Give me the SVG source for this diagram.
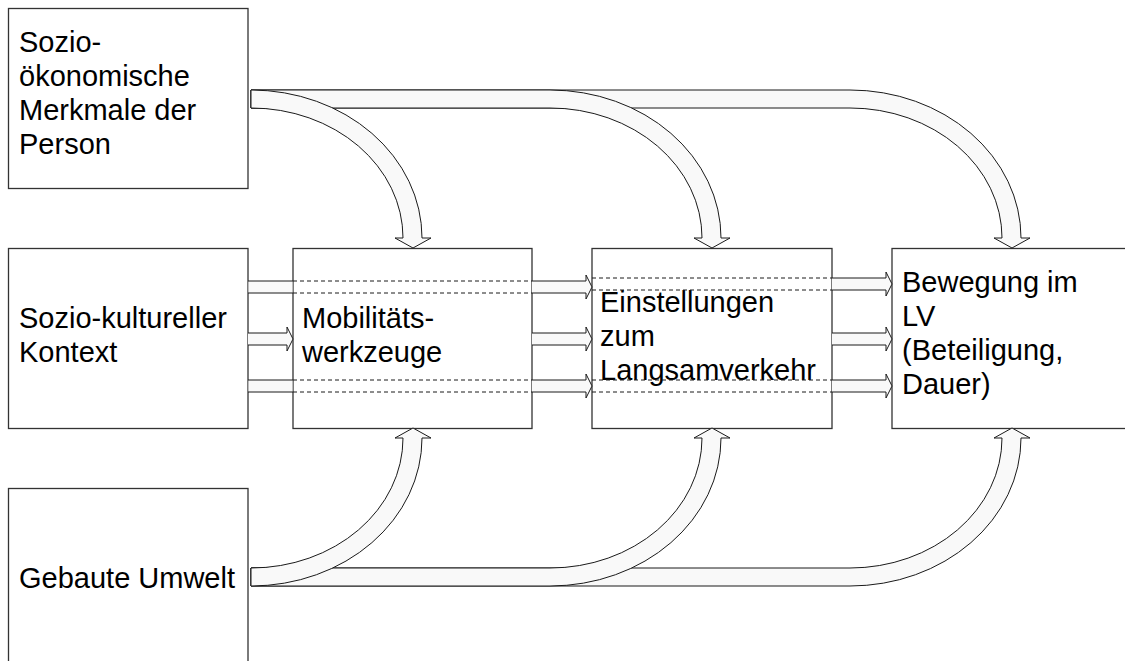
<svg xmlns="http://www.w3.org/2000/svg" width="1125" height="661" viewBox="0 0 1125 661">
  <style>
    .box { fill: #ffffff; stroke: #333333; stroke-width: 1.3; }
    .lbl { font-family: "Liberation Sans", Arial, sans-serif; font-size: 29px; fill: #000000; }
    .arrow { fill: #f9f9f9; stroke: #1a1a1a; stroke-width: 1; stroke-linejoin: miter; }
    .shaft { fill: #f9f9f9; stroke: none; }
    .edge { fill: none; stroke: #1a1a1a; stroke-width: 1; }
    .hidden { fill: none; stroke: #1a1a1a; stroke-width: 1; stroke-dasharray: 4 3; }
  </style>

  <rect width="1125" height="661" fill="#ffffff"/>

  <!-- nodes -->
  <g id="node-soziooekonomisch">
    <rect class="box" x="8.5" y="8.5" width="239.5" height="180"/>
    <text class="lbl" x="19" y="52">Sozio-</text>
    <text class="lbl" x="19" y="86">ökonomische</text>
    <text class="lbl" x="19" y="120">Merkmale der</text>
    <text class="lbl" x="19" y="154">Person</text>
  </g>

  <g id="node-soziokulturell">
    <rect class="box" x="8.5" y="248.5" width="239.5" height="180"/>
    <text class="lbl" x="19" y="328">Sozio-kultureller</text>
    <text class="lbl" x="19" y="362">Kontext</text>
  </g>

  <g id="node-umwelt">
    <rect class="box" x="8.5" y="488.5" width="239.5" height="182"/>
    <text class="lbl" x="19" y="588">Gebaute Umwelt</text>
  </g>

  <g id="node-mobilitaet">
    <rect class="box" x="293" y="248.5" width="239" height="180"/>
    <text class="lbl" x="302" y="328">Mobilitäts-</text>
    <text class="lbl" x="302" y="362">werkzeuge</text>
  </g>

  <g id="node-einstellungen">
    <rect class="box" x="592" y="248.5" width="240" height="180"/>
    <text class="lbl" x="600" y="312">Einstellungen</text>
    <text class="lbl" x="600" y="346">zum</text>
    <text class="lbl" x="600" y="380">Langsamverkehr</text>
  </g>

  <g id="node-bewegung">
    <rect class="box" x="892" y="248.5" width="240" height="180"/>
    <text class="lbl" x="902" y="292">Bewegung im</text>
    <text class="lbl" x="902" y="326">LV</text>
    <text class="lbl" x="902" y="360">(Beteiligung,</text>
    <text class="lbl" x="902" y="394">Dauer)</text>
  </g>

  <!-- connectors -->
  <g id="connectors">
    <!-- curved block arrows from the top box, longest first -->
    <path class="arrow" d="M251 90 L850 90 A171 148 0 0 1 1021 238 L1030 238 L1012 248 L994 238 L1002 238 A152 130 0 0 0 850 108 L251 108 Z"/>
    <path class="arrow" d="M251 90 L550 90 A171 148 0 0 1 721 238 L730 238 L712 248 L694 238 L702 238 A152 130 0 0 0 550 108 L251 108 Z"/>
    <path class="arrow" d="M251 90 A171 148 0 0 1 422 238 L431 238 L413 248 L395 238 L403 238 A152 130 0 0 0 251 108 Z"/>

    <!-- curved block arrows from the bottom box, longest first -->
    <path class="arrow" d="M251 586 L850 586 A171 148 0 0 0 1021 438 L1030 438 L1012 428 L994 438 L1002 438 A152 130 0 0 1 850 568 L251 568 Z"/>
    <path class="arrow" d="M251 586 L550 586 A171 148 0 0 0 721 438 L730 438 L712 428 L694 438 L702 438 A152 130 0 0 1 550 568 L251 568 Z"/>
    <path class="arrow" d="M251 586 A171 148 0 0 0 422 438 L431 438 L413 428 L395 438 L403 438 A152 130 0 0 1 251 568 Z"/>

    <!-- top row: long arrows running behind the boxes -->
    <rect class="shaft" x="248.5" y="281" width="44" height="12"/>
    <path class="edge" d="M248 281 L293 281 M248 293 L293 293"/>
    <path class="hidden" d="M293 281 L532 281 M293 293 L532 293"/>
    <path class="arrow" d="M532 281 L586 281 L586 275 L592 287 L586 299 L586 293 L532 293"/>
    <path class="hidden" d="M592 278 L832 278 M592 290 L832 290"/>
    <path class="arrow" d="M832 278 L886 278 L886 272 L892 284 L886 296 L886 290 L832 290"/>

    <!-- middle row: short arrows between neighbouring boxes -->
    <path class="arrow" d="M248 333 L287 333 L287 327 L293 339 L287 351 L287 345 L248 345"/>
    <path class="arrow" d="M532 333 L586 333 L586 327 L592 339 L586 351 L586 345 L532 345"/>
    <path class="arrow" d="M832 333 L886 333 L886 327 L892 339 L886 351 L886 345 L832 345"/>

    <!-- bottom row: long arrows running behind the boxes -->
    <rect class="shaft" x="248.5" y="380" width="44" height="12"/>
    <path class="edge" d="M248 380 L293 380 M248 392 L293 392"/>
    <path class="hidden" d="M293 380 L532 380 M293 392 L532 392"/>
    <path class="arrow" d="M532 380 L586 380 L586 374 L592 386 L586 398 L586 392 L532 392"/>
    <path class="hidden" d="M592 380 L832 380 M592 392 L832 392"/>
    <path class="arrow" d="M832 380 L886 380 L886 374 L892 386 L886 398 L886 392 L832 392"/>
  </g>
</svg>
